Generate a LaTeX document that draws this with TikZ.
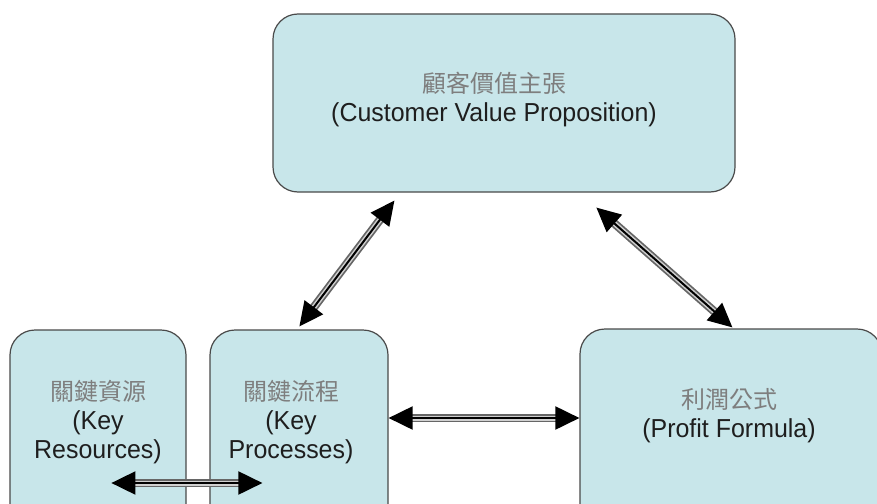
\documentclass[tikz,border=0pt]{standalone}
\usepackage{fontspec}
\setmainfont[FakeStretch=0.96]{Liberation Sans}
\newfontfamily\cjk{Noto Sans CJK TC}
\usetikzlibrary{arrows.meta,calc}
\definecolor{boxfill}{HTML}{C8E6EA}
\definecolor{boxline}{HTML}{4A4A4A}
\definecolor{cjkgray}{HTML}{7E7E7E}
\definecolor{entext}{HTML}{1E1E1E}
\definecolor{arrowedge}{HTML}{666666}
\definecolor{arrowmid}{HTML}{D0D0D0}
\newcommand{\zh}[1]{{\cjk\color{cjkgray}\fontsize{24}{29}\selectfont #1}}
\begin{document}
\begin{tikzpicture}[x=1pt,y=-1pt,
  box/.style={draw=boxline, line width=1.2pt, fill=boxfill, rounded corners=25pt, inner sep=0pt},
  lbl/.style={align=center, text=entext, font=\fontsize{26}{29}\selectfont, inner sep=0pt},
  dblarrow/.style={draw=none,
    preaction={draw=arrowedge, line width=8.5pt, shorten <=18pt, shorten >=18pt},
    preaction={draw=arrowmid, line width=5pt, shorten <=18pt, shorten >=18pt},
    postaction={draw=black, line width=2pt, {Triangle[length=24pt, width=23pt]}-{Triangle[length=24pt, width=23pt]}}}
]
\useasboundingbox (0,0) rectangle (877,503);
\clip (0,0) rectangle (877,503);
% boxes
\node[box, minimum width=462pt, minimum height=178pt] (cvp) at (504,103) {};
\node[box, minimum width=176pt, minimum height=200pt] (kr) at (98,430) {};
\node[box, minimum width=178pt, minimum height=200pt] (kp) at (299,430) {};
\node[box, minimum width=302pt, minimum height=200pt] (pf) at (731,429) {};
% labels
\node[lbl] (cvpt) at (494,100) {\zh{顧客價值主張}\\(Customer Value Proposition)};
\node[lbl] (krt) at (98,422.5) {\zh{關鍵資源}\\(Key\\Resources)};
\node[lbl] (kpt) at (291,422.5) {\zh{關鍵流程}\\(Key\\Processes)};
\node[lbl] (pft) at (729,416) {\zh{利潤公式}\\(Profit Formula)};
% connector end points
\coordinate (a1t) at ($(cvp.south west)+(122,8)$);
\coordinate (a1b) at ($(kp.north west)+(90,-3)$);
\coordinate (a2t) at ($(cvp.south west)+(324,15)$);
\coordinate (a2b) at ($(pf.north west)+(153,-1)$);
\coordinate (a3l) at ($(kp.east)+(0,-12)$);
\coordinate (a3r) at (pf.west |- a3l);
\coordinate (a4l) at ($(kr.west)+(102,53)$);
\coordinate (a4r) at ($(kp.west)+(53,53)$);
% connectors
\draw[dblarrow] (a1b) -- (a1t);
\draw[dblarrow] (a2t) -- (a2b);
\draw[dblarrow] (a3l) -- (a3r);
\draw[dblarrow] (a4l) -- (a4r);
\end{tikzpicture}
\end{document}
